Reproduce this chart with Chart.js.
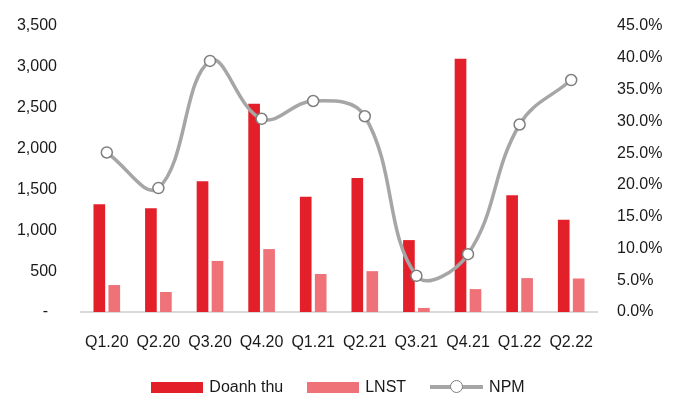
<!DOCTYPE html>
<html>
<head>
  <title>Doanh thu, LNST và NPM theo quý</title>
  <script src="https://cdn.jsdelivr.net/npm/chart.js"></script>
  <style>
    body {
      margin: 0;
      padding: 0;
      background: #fff;
      font-family: 'Liberation Sans', Arial, sans-serif;
    }
    .wrap {
      position: relative;
      width: 676px;
      height: 396px;
    }
    #legend {
      position: absolute;
      left: 0;
      right: 0;
      top: 378px;
      height: 18px;
      display: flex;
      justify-content: center;
      align-items: center;
      font-size: 16px;
      line-height: 18px;
      color: #1a1a1a;
    }
    .item {
      display: flex;
      align-items: center;
      margin: 0 12px;
    }
    .swatch {
      width: 52px;
      height: 11px;
      margin-right: 6px;
    }
    .lineSwatch {
      position: relative;
      width: 53px;
      height: 14px;
      margin-right: 6px;
    }
    .lineSwatch .bar {
      position: absolute;
      left: 0;
      right: 0;
      top: 5px;
      height: 4px;
      background: #a6a6a6;
    }
    .lineSwatch .dot {
      position: absolute;
      left: 20px;
      top: 0;
      width: 11px;
      height: 11px;
      border-radius: 50%;
      border: 1.5px solid #7f7f7f;
      background: #fff;
    }
  </style>
</head>
<body>
  <div class="wrap">
    <canvas id="chart" width="676" height="396"></canvas>
    <div id="legend">
      <div class="item"><span class="swatch" style="background:#e3202a"></span>Doanh thu</div>
      <div class="item"><span class="swatch" style="background:#ef7278"></span>LNST</div>
      <div class="item"><span class="lineSwatch"><span class="bar"></span><span class="dot"></span></span>NPM</div>
    </div>
  </div>
  <script>
    // du lieu doc tu hinh
    const labels = ['Q1.20', 'Q2.20', 'Q3.20', 'Q4.20', 'Q1.21', 'Q2.21', 'Q3.21', 'Q4.21', 'Q1.22', 'Q2.22'];
    const doanhThu = [1320, 1270, 1600, 2550, 1410, 1640, 880, 3100, 1430, 1130];
    const lnst = [330, 245, 625, 770, 465, 500, 50, 280, 415, 410];
    const npm = [25.1, 19.5, 39.5, 30.4, 33.2, 30.8, 5.7, 9.1, 29.5, 36.5]; // %

    const FONT = { family: "'Liberation Sans', Arial, sans-serif", size: 16 };
    const TEXT = '#1a1a1a';

    // co dinh be rong truc, bo phan padding tren/duoi do tick padding sinh ra
    const fixAxis = w => s => {
      s.width = w;
      s.paddingTop = 0;
      s.paddingBottom = 0;
    };

    const ctx = document.getElementById('chart').getContext('2d');
    new Chart(ctx, {
      type: 'bar',
      data: {
        labels: labels,
        datasets: [
          {
            type: 'line',
            label: 'NPM',
            data: npm,
            yAxisID: 'y1',
            order: 0,
            borderColor: '#a6a6a6',
            borderWidth: 3.5,
            tension: 0.4,
            pointRadius: 5.5,
            pointBorderWidth: 1.5,
            pointBorderColor: '#7f7f7f',
            pointBackgroundColor: '#fff'
          },
          {
            label: 'Doanh thu',
            data: doanhThu,
            yAxisID: 'y',
            order: 1,
            backgroundColor: '#e3202a',
            categoryPercentage: 0.58,
            barPercentage: 0.78
          },
          {
            label: 'LNST',
            data: lnst,
            yAxisID: 'y',
            order: 2,
            backgroundColor: '#ef7278',
            categoryPercentage: 0.58,
            barPercentage: 0.78
          }
        ]
      },
      options: {
        responsive: false,
        animation: false,
        layout: { padding: { top: 26, left: 0, right: 0, bottom: 44 } },
        plugins: {
          legend: { display: false },
          tooltip: { enabled: false }
        },
        scales: {
          x: {
            grid: { display: false, drawTicks: false },
            border: { color: '#d9d9d9', width: 2 },
            ticks: { color: TEXT, font: FONT, padding: 21, maxRotation: 0, autoSkip: false },
            afterFit: s => { s.height = 40; }
          },
          y: {
            position: 'left',
            min: 0,
            max: 3500,
            grid: { display: false, drawTicks: false },
            border: { display: false },
            ticks: {
              stepSize: 500,
              color: TEXT,
              font: FONT,
              padding: 24,
              callback: v => v === 0 ? '-  ' : v.toLocaleString('en-US')
            },
            afterFit: fixAxis(81)
          },
          y1: {
            position: 'right',
            min: 0,
            max: 45,
            grid: { display: false, drawTicks: false },
            border: { display: false },
            ticks: {
              stepSize: 5,
              color: TEXT,
              font: FONT,
              padding: 20,
              callback: v => v.toFixed(1) + '%'
            },
            afterFit: fixAxis(79)
          }
        }
      }
    });
  </script>
</body>
</html>
